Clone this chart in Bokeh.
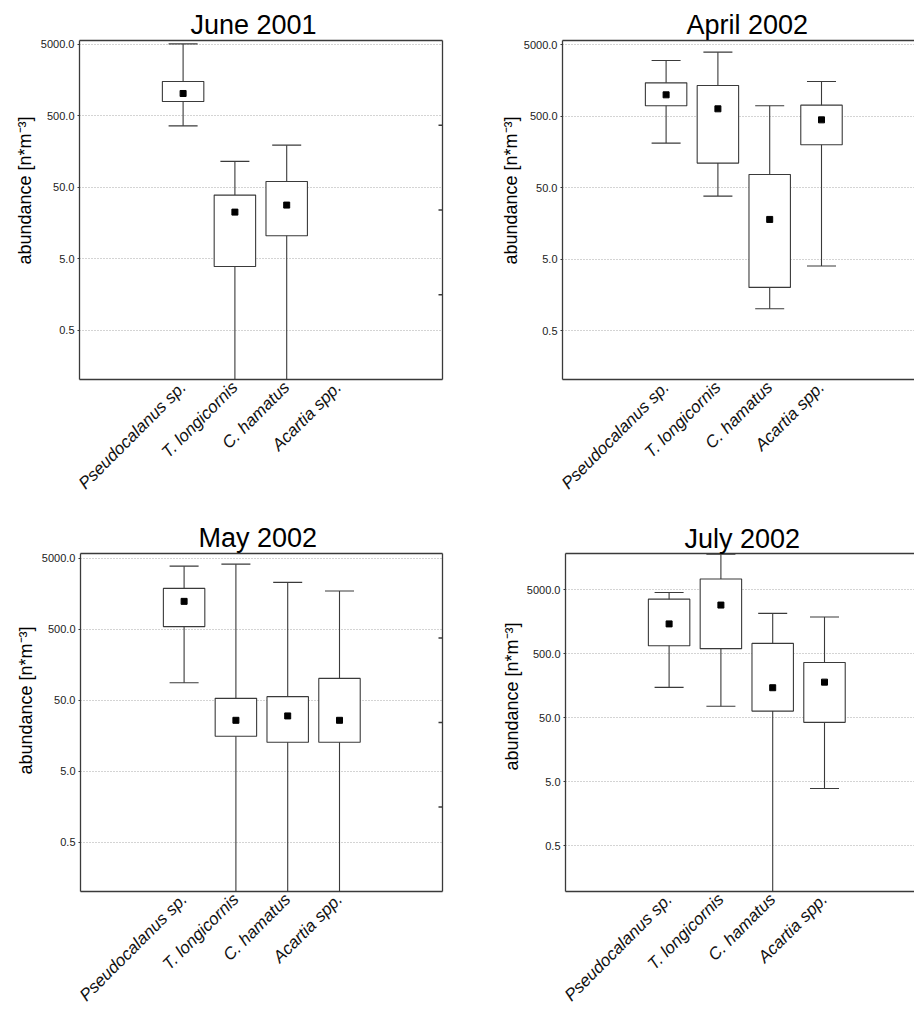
import math
from bokeh.plotting import figure
from bokeh.layouts import column, row
from bokeh.models import (Range1d, LinearAxis, FixedTicker, PrintfTickFormatter,
                          LinearScale, Title)
from bokeh.embed import file_html
from bokeh.resources import INLINE

NaN = float("nan")

species = ["Pseudocalanus sp.", "T. longicornis", "C. hamatus", "Acartia spp."]
positions = [1, 2, 3, 4]
y_ticks = [0.5, 5, 50, 500, 5000]
right_ticks = [1, 2, 3]  # quarter marks on the right-hand frame edge

# June 2001 (no Acartia data)
june_whisker_low = [361, 0.01, 0.01, NaN]
june_box_low = [791, 3.9, 10.5, NaN]
june_mean = [1023, 22.5, 28.2, NaN]
june_box_high = [1506, 38.9, 60.3, NaN]
june_whisker_high = [5050, 115, 194, NaN]

# April 2002
april_whisker_low = [211, 38.2, 1.01, 4.0]
april_box_low = [703, 110.7, 2.01, 200]
april_mean = [1002, 638, 18.0, 447]
april_box_high = [1475, 1355, 76.7, 718]
april_whisker_high = [3033, 3970, 703, 1541]

# May 2002
may_whisker_low = [89, 0.01, 0.01, 0.01]
may_box_low = [549, 15.7, 12.9, 12.9]
may_mean = [1245, 26.3, 30.3, 26.3]
may_box_high = [1896, 53.6, 56.6, 102.4]
may_whisker_high = [3902, 4165, 2303, 1739]

# July 2002
july_whisker_low = [150, 76.2, 0.01, 3.95]
july_box_low = [671, 603, 63.8, 42.6]
july_mean = [1470, 2894, 148, 181]
july_box_high = [3584, 7402, 729, 366]
july_whisker_high = [4547, 18045, 2150, 1887]

FONT = "Liberation Sans"
LINE = "#3a3a3a"
BOX_W = 0.8
CAP_W = 0.56
UNIT_PX = 51.8


def panel(title, y_lo, y_hi, wl, bl, mn, bh, wh, width, height,
          b_left, b_right, b_top, frame_h, left_panel, title_offset,
          title_standoff, ylab_standoff, ylab_offset):
    frame_w = width - b_left - b_right
    x_hi = -1 + frame_w / UNIT_PX
    p = figure(width=width, height=height, y_axis_type="log",
               x_range=Range1d(-1, x_hi), y_range=Range1d(y_lo, y_hi),
               output_backend="svg", toolbar_location=None,
               min_border_left=b_left, min_border_right=b_right,
               min_border_top=b_top,
               min_border_bottom=height - b_top - frame_h,
               extra_y_ranges={"q": Range1d(0, 4)},
               extra_y_scales={"q": LinearScale()})
    p.outline_line_color = None
    p.background_fill_color = "white"
    p.border_fill_color = "white"

    p.title.text = title
    p.title.align = "left"
    p.title.offset = title_offset
    p.title.standoff = title_standoff
    p.title.text_font = FONT
    p.title.text_font_size = "27px"
    p.title.text_font_style = "normal"
    p.title.text_color = "black"

    # left axis
    ya = p.yaxis[0]
    ya.ticker = FixedTicker(ticks=y_ticks)
    ya.formatter = PrintfTickFormatter(format="%.1f")
    ya.major_label_text_font = FONT
    ya.major_label_text_font_size = "11px"
    ya.major_label_text_color = "#222222"
    ya.major_tick_out = 2
    ya.major_tick_in = 0
    ya.minor_tick_out = 0
    ya.minor_tick_in = 0
    ya.major_label_standoff = 3
    ya.axis_line_color = LINE
    ya.axis_line_width = 1.3
    ya.major_tick_line_color = LINE

    # y-axis title (side title, placed off-centre like the original)
    ytitle = Title(text="abundance [n*m\u207b\u00b3]", align="left",
                   offset=ylab_offset, standoff=ylab_standoff,
                   text_font=FONT, text_font_size="18px",
                   text_font_style="normal", text_color="black")
    p.add_layout(ytitle, "left")

    # bottom axis
    xa = p.xaxis[0]
    xa.ticker = FixedTicker(ticks=positions)
    xa.major_label_overrides = {pos: name for pos, name in zip(positions, species)}
    xa.major_label_orientation = math.pi / 4
    xa.major_label_text_font = FONT
    xa.major_label_text_font_size = "17px"
    xa.major_label_text_font_style = "italic"
    xa.major_label_text_color = "#111111"
    xa.major_label_standoff = 5
    xa.major_tick_out = 0
    xa.major_tick_in = 0
    xa.minor_tick_out = 0
    xa.minor_tick_in = 0
    xa.axis_line_color = LINE
    xa.axis_line_width = 1.3

    p.xgrid.grid_line_color = None
    p.ygrid.ticker = FixedTicker(ticks=y_ticks)
    p.ygrid.grid_line_color = "#a8a8a8"
    p.ygrid.grid_line_dash = "1 2"
    p.ygrid.grid_line_width = 1

    # top border
    top = LinearAxis(ticker=FixedTicker(ticks=[]), major_tick_in=0,
                     major_tick_out=0, minor_tick_in=0, minor_tick_out=0,
                     major_label_standoff=0,
                     axis_line_color=LINE, axis_line_width=1.3)
    p.add_layout(top, "above")

    if left_panel:
        right = LinearAxis(y_range_name="q", ticker=FixedTicker(ticks=[]),
                           major_tick_in=0, major_tick_out=0, minor_tick_in=0,
                           minor_tick_out=0, major_label_standoff=0,
                           axis_line_color=LINE, axis_line_width=1.3)
        p.add_layout(right, "right")
        p.segment(x0=[x_hi - 4 / UNIT_PX] * len(right_ticks), y0=right_ticks,
                  x1=[x_hi] * len(right_ticks), y1=right_ticks,
                  y_range_name="q", line_color=LINE, line_width=1.3)

    # whiskers
    p.segment(x0=positions, y0=wl, x1=positions, y1=wh,
              line_color=LINE, line_width=1.1)
    p.segment(x0=[x - CAP_W / 2 for x in positions], y0=wh,
              x1=[x + CAP_W / 2 for x in positions], y1=wh,
              line_color=LINE, line_width=1.1)
    p.segment(x0=[x - CAP_W / 2 for x in positions], y0=wl,
              x1=[x + CAP_W / 2 for x in positions], y1=wl,
              line_color=LINE, line_width=1.1)
    # boxes
    p.quad(left=[x - BOX_W / 2 for x in positions],
           right=[x + BOX_W / 2 for x in positions],
           bottom=bl, top=bh, fill_color="white", line_color=LINE,
           line_width=1.1)
    # means
    p.scatter(x=positions, y=mn, marker="square", size=6,
              fill_color="black", line_color="black")
    return p


p1 = panel("June 2001", 0.103, 5630, june_whisker_low, june_box_low, june_mean,
           june_box_high, june_whisker_high, 490, 505, 79, 48, 40, 339, True,
           111, 1, 6, 115)
p2 = panel("April 2002", 0.103, 5780, april_whisker_low, april_box_low,
           april_mean, april_box_high, april_whisker_high, 424, 505, 72, 0, 40,
           339, False, 124, 2, 0, 115)
p3 = panel("May 2002", 0.102, 5880, may_whisker_low, may_box_low, may_mean,
           may_box_high, may_whisker_high, 490, 513, 80, 48, 47, 339, True,
           118, 1, 6, 117)
p4 = panel("July 2002", 0.097, 18500, july_whisker_low, july_box_low, july_mean,
           july_box_high, july_whisker_high, 424, 513, 75, 0, 48, 340, False,
           119, 0, 4, 121)

layout = column(row(p1, p2), row(p3, p4))
open("out.html", "w").write(file_html(layout, INLINE))
